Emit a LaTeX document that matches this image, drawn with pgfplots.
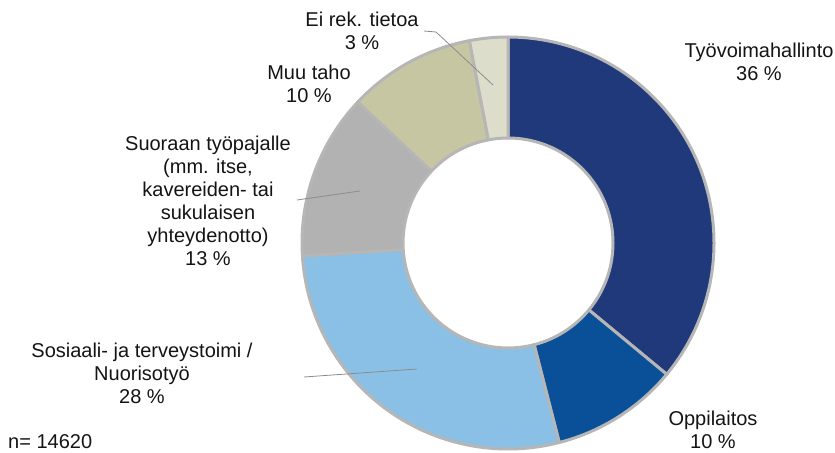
\documentclass[border=0pt]{standalone}
\usepackage{fontspec}
\setmainfont{Liberation Sans}
\usepackage{pgfplots}
\usepackage{pgfplotstable}
\pgfplotsset{compat=1.18}

\definecolor{cTyo}{RGB}{31,57,122}
\definecolor{cOpp}{RGB}{10,80,152}
\definecolor{cSos}{RGB}{138,192,229}
\definecolor{cSuo}{RGB}{178,178,178}
\definecolor{cMuu}{RGB}{198,199,162}
\definecolor{cEi}{RGB}{221,221,203}
\definecolor{cBorder}{RGB}{182,182,182}
\definecolor{cLead}{RGB}{140,140,140}
\definecolor{cText}{RGB}{20,20,20}

% share (%) of each source, clockwise from 12 o'clock
\pgfplotstableread{
idx value col
0 36 cTyo
1 10 cOpp
2 28 cSos
3 13 cSuo
4 10 cMuu
5 3  cEi
}\slices

% start / end angles of the slices
\def\cum{0}
\pgfplotsforeachungrouped \i in {0,...,5}{%
  \pgfplotstablegetelem{\i}{value}\of\slices
  \let\v\pgfplotsretval
  \pgfplotstablegetelem{\i}{col}\of\slices
  \expandafter\xdef\csname sc\i\endcsname{\pgfplotsretval}%
  \pgfmathsetmacro\a{90-3.6*\cum}%
  \pgfmathsetmacro\cum{\cum+\v}%
  \pgfmathsetmacro\b{90-3.6*\cum}%
  \expandafter\xdef\csname sa\i\endcsname{\a}%
  \expandafter\xdef\csname sb\i\endcsname{\b}%
}

\tikzset{lab/.style={inner sep=0pt, text=cText, align=center,
  font=\fontsize{20bp}{23bp}\selectfont}}

\begin{document}
\begin{tikzpicture}
\useasboundingbox (0,0) rectangle (835bp,453bp);
\begin{axis}[
    at={(0,0)}, anchor=south west,
    width=835bp, height=453bp, scale only axis,
    xmin=0, xmax=835, ymin=0, ymax=453, y dir=reverse,
    hide axis, clip=false,
]
\pgfplotsinvokeforeach{0,...,5}{
  \filldraw[fill=\csname sc#1\endcsname, draw=cBorder, line width=3bp,
            line join=round, shift={(axis cs:508,243)}]
    (\csname sa#1\endcsname:206bp)
    arc[start angle=\csname sa#1\endcsname, end angle=\csname sb#1\endcsname, radius=206bp]
    -- (\csname sb#1\endcsname:105bp)
    arc[start angle=\csname sb#1\endcsname, end angle=\csname sa#1\endcsname, radius=105bp]
    -- cycle;
}

% leader lines
\draw[cLead, line width=0.8bp] (axis cs:424,31) -- (axis cs:436,32) -- (axis cs:493,85);
\draw[cLead, line width=0.8bp] (axis cs:297,200) -- (axis cs:360,191);
\draw[cLead, line width=0.8bp] (axis cs:304,377) -- (axis cs:417,369);

% labels (north anchor = first baseline - 14)
\node[lab, anchor=north] at (axis cs:759,43) {Työvoimahallinto\\36 \%};
\node[lab, anchor=north] at (axis cs:713,411) {Oppilaitos\\10 \%};
\node[lab, anchor=north] at (axis cs:142,343) {Sosiaali- ja terveystoimi /\\Nuorisotyö\\28 \%};
\node[lab, anchor=north] at (axis cs:208,136) {Suoraan työpajalle\\(mm. itse,\\kavereiden- tai\\sukulaisen\\yhteydenotto)\\13 \%};
\node[lab, anchor=north] at (axis cs:309,65) {Muu taho\\10 \%};
\node[lab, anchor=north] at (axis cs:362,12) {Ei rek. tietoa\\3 \%};
\node[lab, anchor=base west] at (axis cs:8,448) {n= 14620};
\end{axis}
\end{tikzpicture}
\end{document}
